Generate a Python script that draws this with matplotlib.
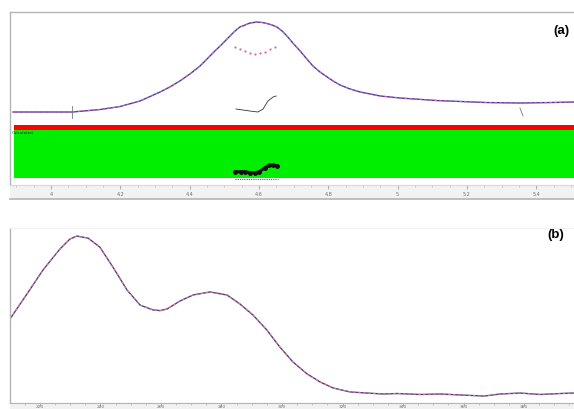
import matplotlib
matplotlib.use("Agg")
import matplotlib.pyplot as plt
import numpy as np

W, H = 574, 410

# ---------------- data (a) ----------------
energy_a = [3.890, 3.968, 4.061, 4.141, 4.199, 4.257, 4.315, 4.343, 4.372, 4.401,
            4.430, 4.453, 4.473, 4.491, 4.508, 4.528, 4.545, 4.560, 4.574, 4.595,
            4.609, 4.623, 4.638, 4.652, 4.667, 4.681, 4.698, 4.719, 4.736, 4.756,
            4.776, 4.797, 4.814, 4.834, 4.863, 4.892, 4.921, 4.950, 5.007, 5.114,
            5.258, 5.354, 5.440, 5.509]
intens_a = [0.000, 0.000, 0.000, 0.027, 0.060, 0.121, 0.220, 0.275, 0.341, 0.418,
            0.505, 0.593, 0.670, 0.736, 0.802, 0.879, 0.934, 0.956, 0.978, 0.989,
            0.984, 0.973, 0.956, 0.934, 0.890, 0.835, 0.758, 0.670, 0.593, 0.505,
            0.440, 0.385, 0.341, 0.297, 0.253, 0.220, 0.198, 0.176, 0.154, 0.126,
            0.104, 0.099, 0.104, 0.110]
resid_arc_x = [4.531, 4.545, 4.560, 4.574, 4.589, 4.603, 4.618, 4.632, 4.647]
resid_arc_y = [0.714, 0.690, 0.668, 0.650, 0.637, 0.645, 0.662, 0.690, 0.714]
squig_x = [4.534, 4.554, 4.574, 4.597, 4.612, 4.626, 4.641, 4.650]
squig_y = [0.033, 0.022, 0.011, 0.000, 0.033, 0.121, 0.165, 0.176]
dots_x = [4.531, 4.548, 4.560, 4.574, 4.589, 4.600, 4.618, 4.629, 4.641, 4.652]
dots_y = [-0.659, -0.655, -0.659, -0.665, -0.665, -0.659, -0.610, -0.585, -0.585, -0.590]
ticks_a = [4.0, 4.2, 4.4, 4.6, 4.8, 5.0, 5.2, 5.4]
ticklabels_a = ["4", "4.2", "4.4", "4.6", "4.8", "5", "5.2", "5.4"]

# ---------------- data (b) ----------------
wl_b = [210.1, 215.7, 221.0, 226.6, 229.9, 232.2, 235.9, 239.8, 244.1, 248.8,
        253.1, 257.4, 259.7, 262.0, 266.3, 270.6, 276.2, 281.8, 286.1, 290.4,
        295.0, 299.3, 303.6, 308.3, 312.6, 316.9, 322.5, 328.1, 333.4, 338.0,
        345.6, 352.2, 358.9, 366.8, 372.1, 378.7, 385.3, 391.9, 396.5]
abs_b = [0.475, 0.633, 0.785, 0.918, 0.981, 1.000, 0.987, 0.930, 0.804, 0.658,
         0.563, 0.532, 0.528, 0.538, 0.589, 0.627, 0.646, 0.627, 0.570, 0.500,
         0.405, 0.297, 0.203, 0.127, 0.076, 0.038, 0.013, 0.006, 0.000, 0.003,
         -0.003, 0.000, -0.006, -0.013, 0.000, 0.006, -0.003, 0.003, 0.006]
ticks_b = [220, 240, 260, 280, 300, 320, 340, 360, 380]
ticklabels_b = ["220", "240", "260", "280", "300", "320", "340", "360", "380"]


def px_axes(fig, x0, y0, x1, y1):
    return fig.add_axes([x0 / W, 1 - y1 / H, (x1 - x0) / W, (y1 - y0) / H])


fig = plt.figure(figsize=(W / 100, H / 100), dpi=100)
fig.patch.set_facecolor("white")

GRAY = "#b4b4b4"

# ---------- panel (a) ----------
xa0, xa1 = 3.882, 5.509 + (580 - 574) / 346.5
ax = px_axes(fig, 10, 13, 580, 186)
ax.set_xlim(xa0, xa1)
ax.set_ylim(-0.802, 1.099)
for s in ["right", "bottom"]:
    ax.spines[s].set_visible(False)
for s in ["top", "left"]:
    ax.spines[s].set_color(GRAY)
    ax.spines[s].set_linewidth(1.0)
ax.set_xticks([]); ax.set_yticks([])

ax.axhspan(-0.198, -0.143, xmin=(3.894 - xa0) / (xa1 - xa0), xmax=1, color="#ff0000", lw=0)
ax.axhspan(-0.725, -0.198, xmin=(3.894 - xa0) / (xa1 - xa0), xmax=1, color="#00ee00", lw=0)
ax.text(3.887, -0.225, "Calculated", fontsize=3, color="#333333", va="center", ha="left")

ax.plot(energy_a, intens_a, color="#4a3a9e", lw=1.0, solid_capstyle="round")
ax.plot(energy_a, intens_a, color="#e070b0", lw=0.6, ls=(0, (3, 3)))
ax.plot(resid_arc_x, resid_arc_y, ls="none", marker=".", ms=1.2, color="#d07090")
ax.plot(squig_x, squig_y, color="#333333", lw=0.6)
ax.plot(dots_x, dots_y, color="#111111", lw=2.2, marker="o", ms=2.5)
ax.plot([4.531, 4.655], [-0.739, -0.739], color="#4060c0", lw=0.8, ls=(0, (1, 1)))
ax.plot([4.061, 4.061], [-0.066, 0.066], color="#777777", lw=0.6)
ax.plot([5.353, 5.362], [0.044, -0.044], color="#777777", lw=0.6)
ax.text(0.982, 0.896, "(a)", transform=ax.transAxes, fontsize=9.5,
        fontweight="bold", ha="right", va="center", family="Liberation Sans")

# tick band (a)
bx = px_axes(fig, 10, 186, 580, 200)
bx.set_facecolor("#f2f2f2")
bx.set_xlim(xa0, xa1); bx.set_ylim(0, 1)
for s in ["left", "right"]:
    bx.spines[s].set_visible(False)
bx.spines["top"].set_color("#d8d8d8")
bx.spines["bottom"].set_color(GRAY)
bx.spines["bottom"].set_linewidth(1.2)
bx.set_yticks([])
bx.set_xticks(ticks_a)
bx.set_xticks(np.arange(3.9, 5.55, 0.05), minor=True)
bx.tick_params(axis="x", which="both", bottom=False, top=True, labelbottom=False,
               direction="in", color="#a0a0a0")
bx.tick_params(axis="x", which="major", length=3, width=0.6)
bx.tick_params(axis="x", which="minor", length=1.5, width=0.4)
for t, lab in zip(ticks_a, ticklabels_a):
    bx.text(t, 0.42, lab, fontsize=3.5, color="#707070", ha="center", va="center")

# ---------- panel (b) ----------
xb0, xb1 = 210.1, 396.5 + 6 * 20 / 60.5
cx = px_axes(fig, 10, 229, 580, 404)
cx.set_xlim(xb0, xb1)
cx.set_ylim(-0.057, 1.051)
for s in ["right", "bottom"]:
    cx.spines[s].set_visible(False)
cx.spines["top"].set_color("#f0f0f0")
cx.spines["left"].set_color(GRAY)
cx.spines["left"].set_linewidth(1.0)
cx.set_xticks([]); cx.set_yticks([])
cx.plot(wl_b, abs_b, color="#5a3a7a", lw=1.0)
cx.plot(wl_b, abs_b, color="#e08aa8", lw=0.6, ls=(0, (3, 3)))
cx.text(0.972, 0.966, "(b)", transform=cx.transAxes, fontsize=9.5,
        fontweight="bold", ha="right", va="center", family="Liberation Sans")

dx = px_axes(fig, 10, 404, 580, 410)
dx.set_facecolor("#f2f2f2")
dx.set_xlim(xb0, xb1); dx.set_ylim(0, 1)
for s in ["left", "right", "bottom"]:
    dx.spines[s].set_visible(False)
dx.spines["top"].set_color(GRAY)
dx.set_yticks([])
dx.set_xticks(ticks_b)
dx.set_xticks(np.arange(215, 400, 5), minor=True)
dx.tick_params(axis="x", which="both", bottom=False, top=True, labelbottom=False,
               direction="in", color="#a0a0a0")
dx.tick_params(axis="x", which="major", length=2, width=0.6)
dx.tick_params(axis="x", which="minor", length=1.2, width=0.4)
for t, lab in zip(ticks_b, ticklabels_b):
    dx.text(t, 0.45, lab, fontsize=3.2, color="#707070", ha="center", va="center")

fig.savefig("out.png", dpi=100)
